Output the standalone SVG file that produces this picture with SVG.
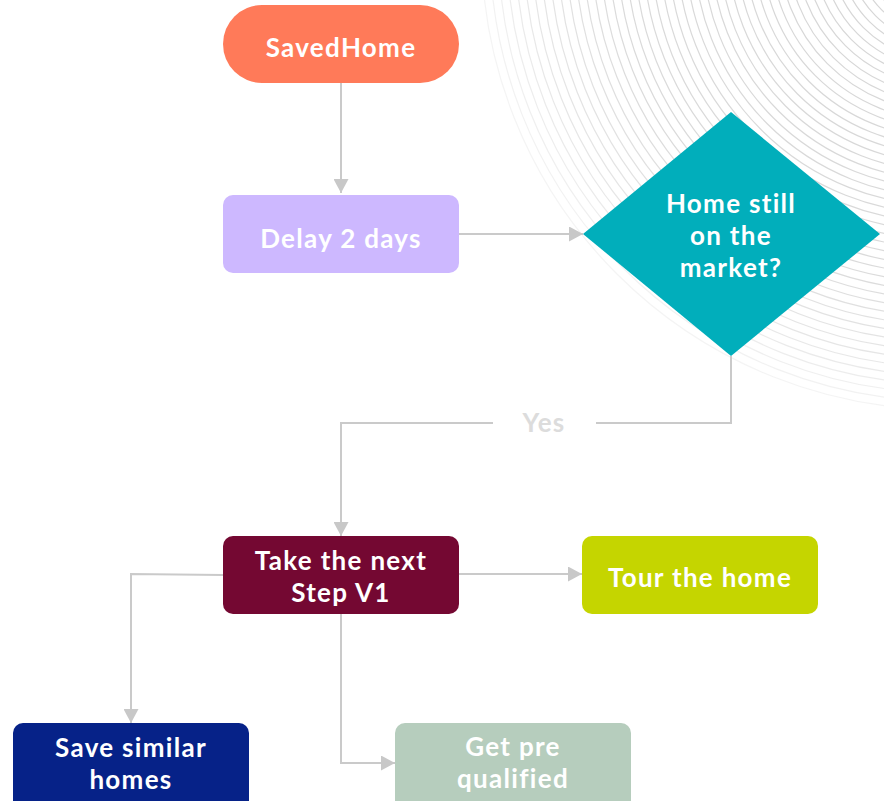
<svg xmlns="http://www.w3.org/2000/svg" width="884" height="801" viewBox="0 0 884 801">
  <defs>
    <radialGradient id="ringFade" gradientUnits="userSpaceOnUse" cx="944" cy="-53" r="470">
      <stop offset="0" stop-color="#d4d4d4"/>
      <stop offset="0.7" stop-color="#dadada"/>
      <stop offset="0.88" stop-color="#e6e6e6"/>
      <stop offset="1" stop-color="#f6f6f6"/>
    </radialGradient>
    <marker id="arrow" markerUnits="userSpaceOnUse" markerWidth="15" markerHeight="15" viewBox="0 0 14 15" refX="14" refY="7.5" orient="auto">
      <path d="M0,0 L14,7.5 L0,15 Z" fill="#c8c8c8"/>
    </marker>
  </defs>
  <style>
    .ring { fill: none; stroke: url(#ringFade); stroke-width: 1.2; }
    .edge { fill: none; stroke: #cacaca; stroke-width: 2; }
    .lbl { font-family: Lato, "Open Sans", "Liberation Sans", sans-serif; font-weight: 700; font-size: 26px; letter-spacing: 1.3px; fill: #ffffff; text-anchor: middle; }
    .ylbl { font-family: Lato, "Open Sans", "Liberation Sans", sans-serif; font-weight: 700; font-size: 26px; letter-spacing: 1.3px; fill: #dcdcdc; text-anchor: middle; }
  </style>
  <rect x="0" y="0" width="884" height="801" fill="#ffffff"/>
  <g id="background">
    <circle class="ring" cx="944" cy="-53" r="63"/>
    <circle class="ring" cx="944" cy="-53" r="71.5"/>
    <circle class="ring" cx="944" cy="-53" r="80"/>
    <circle class="ring" cx="944" cy="-53" r="88.5"/>
    <circle class="ring" cx="944" cy="-53" r="97"/>
    <circle class="ring" cx="944" cy="-53" r="105.5"/>
    <circle class="ring" cx="944" cy="-53" r="114"/>
    <circle class="ring" cx="944" cy="-53" r="122.5"/>
    <circle class="ring" cx="944" cy="-53" r="131"/>
    <circle class="ring" cx="944" cy="-53" r="139.5"/>
    <circle class="ring" cx="944" cy="-53" r="148"/>
    <circle class="ring" cx="944" cy="-53" r="156.5"/>
    <circle class="ring" cx="944" cy="-53" r="165"/>
    <circle class="ring" cx="944" cy="-53" r="173.5"/>
    <circle class="ring" cx="944" cy="-53" r="182"/>
    <circle class="ring" cx="944" cy="-53" r="190.5"/>
    <circle class="ring" cx="944" cy="-53" r="199"/>
    <circle class="ring" cx="944" cy="-53" r="207.5"/>
    <circle class="ring" cx="944" cy="-53" r="216"/>
    <circle class="ring" cx="944" cy="-53" r="224.5"/>
    <circle class="ring" cx="944" cy="-53" r="233"/>
    <circle class="ring" cx="944" cy="-53" r="241.5"/>
    <circle class="ring" cx="944" cy="-53" r="250"/>
    <circle class="ring" cx="944" cy="-53" r="258.5"/>
    <circle class="ring" cx="944" cy="-53" r="267"/>
    <circle class="ring" cx="944" cy="-53" r="275.5"/>
    <circle class="ring" cx="944" cy="-53" r="284"/>
    <circle class="ring" cx="944" cy="-53" r="292.5"/>
    <circle class="ring" cx="944" cy="-53" r="301"/>
    <circle class="ring" cx="944" cy="-53" r="309.5"/>
    <circle class="ring" cx="944" cy="-53" r="318"/>
    <circle class="ring" cx="944" cy="-53" r="326.5"/>
    <circle class="ring" cx="944" cy="-53" r="335"/>
    <circle class="ring" cx="944" cy="-53" r="343.5"/>
    <circle class="ring" cx="944" cy="-53" r="352"/>
    <circle class="ring" cx="944" cy="-53" r="360.5"/>
    <circle class="ring" cx="944" cy="-53" r="369"/>
    <circle class="ring" cx="944" cy="-53" r="377.5"/>
    <circle class="ring" cx="944" cy="-53" r="386"/>
    <circle class="ring" cx="944" cy="-53" r="394.5"/>
    <circle class="ring" cx="944" cy="-53" r="403"/>
    <circle class="ring" cx="944" cy="-53" r="411.5"/>
    <circle class="ring" cx="944" cy="-53" r="420"/>
    <circle class="ring" cx="944" cy="-53" r="428.5"/>
    <circle class="ring" cx="944" cy="-53" r="437"/>
    <circle class="ring" cx="944" cy="-53" r="445.5"/>
    <circle class="ring" cx="944" cy="-53" r="454"/>
    <circle class="ring" cx="944" cy="-53" r="462.5"/>
  </g>
  <g id="connectors">
    <path class="edge" d="M341,83 L341,193" marker-end="url(#arrow)"/>
    <path class="edge" d="M459,234 L583,234" marker-end="url(#arrow)"/>
    <path class="edge" d="M731,356 L731,423 L596,423"/>
    <path class="edge" d="M493,423 L341,423 L341,536" marker-end="url(#arrow)"/>
    <text class="ylbl" x="544" y="432">Yes</text>
    <path class="edge" d="M459,574 L582,574" marker-end="url(#arrow)"/>
    <path class="edge" d="M223,575 L131,574 L131,723" marker-end="url(#arrow)"/>
    <path class="edge" d="M341,614 L341,763 L395,763" marker-end="url(#arrow)"/>
  </g>
  <g id="saved-home">
    <rect x="223" y="5" width="236" height="78" rx="39" fill="#ff7a59"/>
    <text class="lbl" x="341" y="57">SavedHome</text>
  </g>
  <g id="delay">
    <rect x="223" y="195" width="236" height="78" rx="10" fill="#cdb8ff"/>
    <text class="lbl" x="341" y="248">Delay 2 days</text>
  </g>
  <g id="decision">
    <polygon points="731,112 880,234 731,356 583,234" fill="#01aebb"/>
    <text class="lbl" x="731" y="213">Home still</text>
    <text class="lbl" x="731" y="245">on the</text>
    <text class="lbl" x="731" y="277">market?</text>
  </g>
  <g id="next-step">
    <rect x="223" y="536" width="236" height="78" rx="10" fill="#740832"/>
    <text class="lbl" x="341" y="570">Take the next</text>
    <text class="lbl" x="341" y="602">Step V1</text>
  </g>
  <g id="tour">
    <rect x="582" y="536" width="236" height="78" rx="10" fill="#c5d500"/>
    <text class="lbl" x="700" y="587">Tour the home</text>
  </g>
  <g id="save-similar">
    <rect x="13" y="723" width="236" height="90" rx="10" fill="#062288"/>
    <text class="lbl" x="131" y="757">Save similar</text>
    <text class="lbl" x="131" y="789">homes</text>
  </g>
  <g id="pre-qualified">
    <rect x="395" y="723" width="236" height="90" rx="10" fill="#b6cdbd"/>
    <text class="lbl" x="513" y="756">Get pre</text>
    <text class="lbl" x="513" y="788">qualified</text>
  </g>
</svg>
